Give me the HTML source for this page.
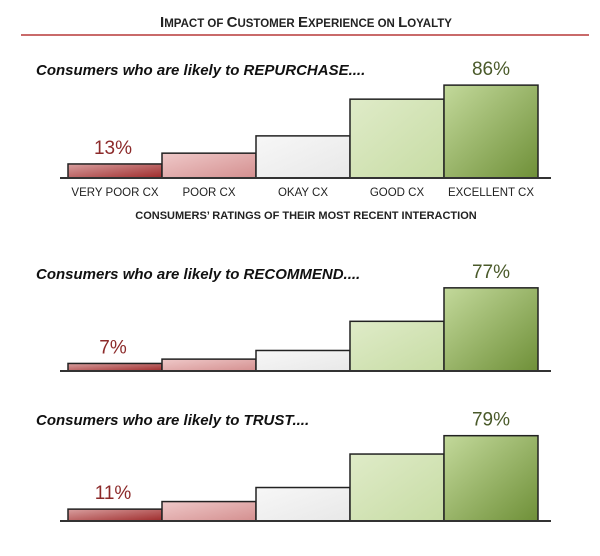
<!DOCTYPE html>
<html><head><meta charset="utf-8">
<style>
html,body{margin:0;padding:0;background:#fff;}
svg{display:block;font-family:"Liberation Sans",sans-serif;}
</style></head>
<body>
<svg id="chart" width="600" height="556" viewBox="0 0 600 556">
<defs>
<linearGradient id="g0" x1="0" y1="0" x2="1" y2="1"><stop offset="0" stop-color="#d9a0a0"/><stop offset="1" stop-color="#9e2b2b"/></linearGradient>
<linearGradient id="g1" x1="0" y1="0" x2="1" y2="1"><stop offset="0" stop-color="#efc9c9"/><stop offset="1" stop-color="#d48f8f"/></linearGradient>
<linearGradient id="g2" x1="0" y1="0" x2="1" y2="1"><stop offset="0" stop-color="#f7f7f7"/><stop offset="1" stop-color="#e8e8e8"/></linearGradient>
<linearGradient id="g3" x1="0" y1="0" x2="1" y2="1"><stop offset="0" stop-color="#dfebc8"/><stop offset="1" stop-color="#c7dca4"/></linearGradient>
<linearGradient id="g4" x1="0" y1="0" x2="1" y2="1"><stop offset="0" stop-color="#c3d99b"/><stop offset="1" stop-color="#6f9038"/></linearGradient>
</defs>
<text x="306" y="27" text-anchor="middle" font-size="15" font-weight="bold" fill="#222">I<tspan font-size="11.5">MPACT OF </tspan>C<tspan font-size="11.5">USTOMER </tspan>E<tspan font-size="11.5">XPERIENCE ON </tspan>L<tspan font-size="11.5">OYALTY</tspan></text>
<line x1="21" y1="35" x2="589" y2="35" stroke="#c96a6a" stroke-width="2"/>
</svg>
<script>
const categories = ["Very Poor CX","Poor CX","Okay CX","Good CX","Excellent CX"];
const repurchaseValues = [13, 23, 39, 73, 86];
const recommendValues = [7, 11, 19, 46, 77];
const trustValues = [11, 18, 31, 62, 79];
const panelTitles = ["Consumers who are likely to REPURCHASE....","Consumers who are likely to RECOMMEND....","Consumers who are likely to TRUST...."];

const svg = document.getElementById('chart');
const NS = 'http://www.w3.org/2000/svg';
const pxPerPct = 1.08;
const x0 = 68, bw = 94;
function xScale(i){ return x0 + i*bw; }
function yScale(base, v){ return base - v*pxPerPct; }
function mk(tag, attrs){ const e=document.createElementNS(NS,tag); for(const k in attrs) e.setAttribute(k,attrs[k]); svg.appendChild(e); return e; }

const panels = [
  {vals: repurchaseValues, base: 178, sub: 75, key:'repurchase'},
  {vals: recommendValues, base: 371, sub: 279, key:'recommend'},
  {vals: trustValues, base: 521, sub: 425, key:'trust'}
];
panels.forEach((p, pi) => {
  const t = mk('text',{x:36,y:p.sub,'font-size':15,'font-weight':'bold','font-style':'italic',fill:'#111'});
  t.textContent = panelTitles[pi];
  
  
  p.vals.forEach((v, i) => {
    const y = yScale(p.base, v);
    const r = mk('rect',{x:xScale(i),y:y,width:bw,height:p.base-y,fill:'url(#g'+i+')',stroke:'#222','stroke-width':1.5});
    
    
  });
  const ax = mk('line',{x1:60,y1:p.base,x2:551,y2:p.base,stroke:'#333','stroke-width':2});
  
  
  const first = p.vals[0], last = p.vals[p.vals.length-1];
  const l1 = mk('text',{x:xScale(0)+bw/2-2,y:yScale(p.base,first)-10,'text-anchor':'middle','font-size':19,fill:'#8c2a2a'});
  l1.textContent = first+'%';
  
  
  const l2 = mk('text',{x:xScale(4)+bw/2,y:yScale(p.base,last)-10,'text-anchor':'middle','font-size':19,fill:'#4a5a2a'});
  l2.textContent = last+'%';
  
  
});
categories.forEach((c, i) => {
  const t = mk('text',{x:xScale(i)+bw/2,y:196,'text-anchor':'middle','font-size':11.5,fill:'#222'});
  t.textContent = c.toUpperCase();
  
  
});
const at = mk('text',{x:306,y:219,'text-anchor':'middle','font-size':11,'font-weight':'bold',fill:'#222'});
at.textContent = "CONSUMERS’ RATINGS OF THEIR MOST RECENT INTERACTION";


</script>
</body></html>
